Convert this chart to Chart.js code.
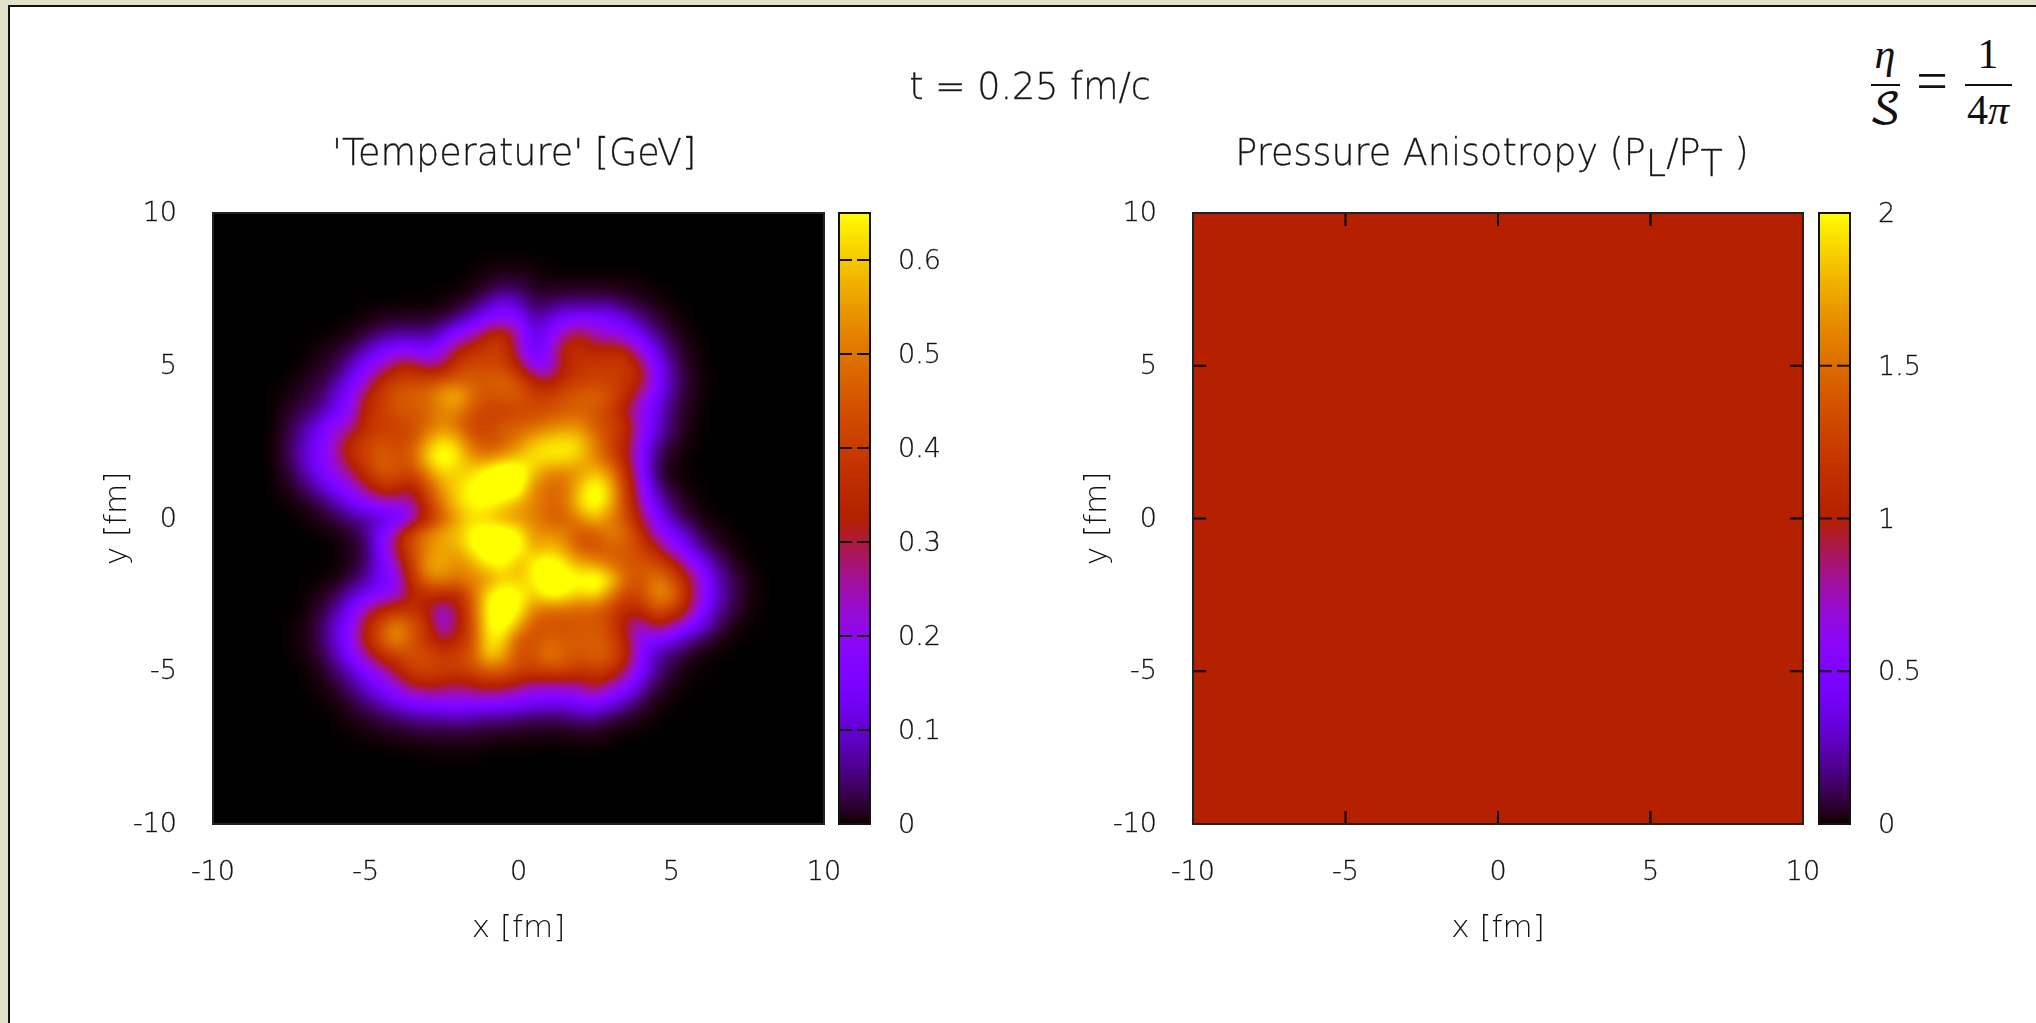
<!DOCTYPE html>
<html>
<head>
<meta charset="utf-8">
<title>Temperature and pressure anisotropy</title>
<script src="https://cdn.jsdelivr.net/npm/chart.js@4/dist/chart.umd.min.js"></script>
<style>
  html { background: #e4e1c9; }
  html, body { margin: 0; height: 100%; overflow: hidden; }
  #page { position: absolute; left: 8px; top: 5px; width: 2040px; height: 1030px; background: #fff;
          border-left: 2px solid #111; border-top: 2px solid #111; }
  canvas { position: absolute; filter: blur(0.4px); }
  .txt { position: absolute; font-family: "DejaVu Sans"; font-weight: 200; font-size: 36.5px; color: #111; white-space: nowrap;
         transform: translate(-50%, -50%); filter: blur(0.4px); -webkit-text-stroke: 0.3px #333; }
  .txt sub { font-size: 36.5px; vertical-align: -11px; line-height: 0; }
  .m { position: absolute; font-family: "Liberation Serif"; color: #111; white-space: nowrap;
       transform: translate(-50%, -50%); font-size: 42px; }
  .bar { position: absolute; height: 2px; background: #111; }
</style>
</head>
<body>
<div id="page"></div>
<div class="txt" style="left:1030px;top:86px">t = 0.25 fm/c</div>
<div class="txt" style="left:514px;top:152px">'Temperature' [GeV]</div>
<div class="txt" style="left:1492px;top:152px">Pressure Anisotropy (P<sub>L</sub>/P<sub>T</sub> )</div>
<div class="m" style="left:1885px;top:54px;font-style:italic">η</div>
<div class="bar" style="left:1871px;top:84px;width:29px"></div>
<div class="m" style="left:1885px;top:112px;font-family:'DejaVu Math TeX Gyre','Liberation Serif'">𝒮</div>
<div class="m" style="left:1932px;top:81px;font-size:56px">=</div>
<div class="m" style="left:1988px;top:54px">1</div>
<div class="bar" style="left:1965px;top:84px;width:47px"></div>
<div class="m" style="left:1988px;top:110px">4<i>π</i></div>

<script>
// temperature in hundredths of a GeV, rows top to bottom
const tempX = [-8,-7.5,-7,-6.5,-6,-5.5,-5,-4.5,-4,-3.5,-3,-2.5,-2,-1.5,-1,-.5,0,.5,1,1.5,2,2.5,3,3.5,4,4.5,5,5.5,6,6.5,7,7.5,8];
const tempY = [8.5,8,7.5,7,6.5,6,5.5,5,4.5,4,3.5,3,2.5,2,1.5,1,.5,0,-.5,-1,-1.5,-2,-2.5,-3,-3.5,-4,-4.5,-5,-5.5,-6,-6.5,-7,-7.5,-8];
const tempRows = [
  [0,0,0,0,0,0,0,0,0,0,0,0,0,0,0,0,0,0,0,0,0,0,0,0,0,0,0,0,0,0,0,0,0],
  [0,0,0,0,0,0,0,0,0,0,0,0,0,0,.5,1,1,.5,0,0,0,0,0,0,0,0,0,0,0,0,0,0,0],
  [0,0,0,0,0,0,0,0,0,0,0,0,0,.7,2,4,3.5,1.5,1,1,1,1,1,.7,.3,0,0,0,0,0,0,0,0],
  [0,0,0,0,0,0,0,0,0,0,0,.3,1,3,8.5,13,10,3,4,6,6,6,6,3,2,.7,0,0,0,0,0,0,0],
  [0,0,0,0,0,0,.3,1,1.5,1.5,1.5,2.5,6,11.5,17.5,20.5,17.5,7,11.5,16,17.5,17.5,16,11.5,6,2.5,.7,0,0,0,0,0,0],
  [0,0,0,0,0,.7,2.5,5,7,7,6,11.5,19,24,35,38,25,10,16,26,33,24,22,19,13,6,2,.3,0,0,0,0,0],
  [0,0,0,.3,1.5,3,8.5,14.5,17.5,17.5,14.5,20.5,32,37,40,40,24,11.5,19,36,37,34,36,34,20.5,11.5,4,1,0,0,0,0,0],
  [0,0,0,1.5,2.5,8.5,16,22,32,34,26,28,40,43,43,42,34,17.5,19,33,38,39,40,40,32,16,6,1.5,0,0,0,0,0],
  [0,0,1,2,6,13,22,36,41,42,43,46,47,46,46,48,44,34,30,38,40,42,41,38,34,17.5,7,2,.3,0,0,0,0],
  [0,.5,2,4,10,17.5,32,40,46,47,48,56,60,49,44,46,46,41,41,44,47,48,44,37,24,14.5,6,1.5,0,0,0,0,0],
  [0,1.5,3.5,6,13,19,36,40,44,46,47,52,52,44,41,40,42,43,44,46,47,45,41,30,20.5,11.5,4,1,0,0,0,0,0],
  [0,2.5,7,13,20.5,24,37,40,41,42,48,54,49,41,42,46,47,48,52,54,54,46,42,38,21,11.5,4,.7,0,0,0,0,0],
  [0,3.5,8.5,16,24,36,41,44,42,44,56,64,60,47,43,46,52,60,62,64,62,52,42,34,19,7,2,.3,0,0,0,0,0],
  [0,3.5,10,16,24,36,41,48,44,46,62,69,64,54,52,56,60,63,64,64,60,52,44,33,17.5,4,1,0,0,0,0,0,0],
  [0,2,7.5,14.5,20.5,27,38,46,44,42,52,62,60,62,68,74,70,60,52,52,54,60,54,38,19,3,.3,0,0,0,0,0,0],
  [0,1,3.5,8.5,14.5,20.5,28,37,37,30,44,55,62,66,70,74,70,52,48,48,60,69,60,40,22,7,1.5,.3,0,0,0,0,0],
  [0,0,1,3,7,13,17.5,22,22,24,38,52,61,66,66,62,57,52,48,49,62,68,60,42,25,11.5,4,1,0,0,0,0,0],
  [0,0,0,1,2.5,5,7,8.5,11.5,20.5,34,46,56,62,60,56,54,52,46,46,53,60,52,44,30,17.5,7,2.5,.3,0,0,0,0],
  [0,0,0,0,.3,1.5,5,16,28,44,52,57,60,66,70,71,66,54,54,52,44,45,52,49,38,22,16,8.5,2.5,.7,0,0,0],
  [0,0,0,0,0,1,3,14.5,31,43,52,56,56,66,71,71,68,56,60,56,46,44,46,46,42,34,21,14.5,6,2,.3,0,0],
  [0,0,0,0,0,.7,4,13,24,40,56,58,52,56,64,66,56,66,70,64,58,56,49,46,45,44,37,24,14.5,6,1.5,0,0],
  [0,0,0,0,.3,2.5,7,13,17.5,37,50,52,50,52,54,60,60,64,71,68,66,70,64,48,44,52,46,34,20.5,8.5,3.5,.7,0],
  [0,0,0,.7,3,8.5,13,17.5,20.5,33,36,36,34,48,64,70,66,60,68,66,60,64,52,42,42,54,52,36,20.5,10,3.5,.7,0],
  [0,0,0,2,6,14.5,26,34,38,38,32,20.5,30,46,66,70,66,52,48,48,47,46,42,34,36,44,42,32,17.5,7,3,.3,0],
  [0,0,.7,3,10,17.5,33,44,54,46,38,19,30,44,66,68,58,44,44,44,45,46,42,30,21,33,26,19,11.5,4,.7,0,0],
  [0,0,.7,3,10,19,34,45,55,45,38,30,34,44,64,62,44,44,48,46,46,47,44,33,19,14.5,11.5,6,2.5,.7,0,0,0],
  [0,0,.3,2,7,16,25,36,40,44,44,40,42,46,62,56,44,44,52,47,45,47,46,36,17.5,7,4,1.5,.3,0,0,0,0],
  [0,0,0,.7,4,8.5,16,22,32,40,42,40,40,42,46,46,42,40,42,42,38,40,38,28,16,6,2,.3,0,0,0,0,0],
  [0,0,0,.3,1.5,5,10,16,21,30,32,31,27,31,33,32,28,24,24,24,25,32,24,19,8.5,2.5,.7,0,0,0,0,0,0],
  [0,0,0,0,.3,2,5,8.5,13,16,17.5,19,19,19,19,17.5,16,14.5,13,13,16,17.5,13,8.5,3,.7,0,0,0,0,0,0,0],
  [0,0,0,0,0,.7,1.5,3,4,6,7,7,8.5,7,6,6,5,4,4,4,6,6,3,1.5,.7,0,0,0,0,0,0,0,0],
  [0,0,0,0,0,0,.3,.7,1,1.5,2,2,2,2,1.5,1,1,.7,.7,.7,1,1,.3,0,0,0,0,0,0,0,0,0,0],
  [0,0,0,0,0,0,0,0,0,0,.3,.3,.3,.3,0,0,0,0,0,0,0,0,0,0,0,0,0,0,0,0,0,0,0],
  [0,0,0,0,0,0,0,0,0,0,0,0,0,0,0,0,0,0,0,0,0,0,0,0,0,0,0,0,0,0,0,0,0]
];

// pressure anisotropy is flat at t = 0.25
const anisoX = [-10, 10];
const anisoY = [10, -10];
const anisoRows = [[1, 1], [1, 1]];

const axisTicks = [-10, -5, 0, 5, 10];
const tempTicks = [0, 0.1, 0.2, 0.3, 0.4, 0.5, 0.6];
const anisoTicks = [0, 0.5, 1, 1.5, 2];
const tempMax = 0.65;
const anisoMax = 2;

// gnuplot default palette (rgbformulae 7,5,15)
function palette(v) {
  const t = Math.min(1, Math.max(0, v));
  return [Math.sqrt(t) * 255, t * t * t * 255, Math.max(0, Math.sin(2 * Math.PI * t)) * 255];
}

// cubic b-spline smoothing between the cells, the original is a smooth pm3d map
function spline(a, b, c, d, t) {
  const u = 1 - t;
  return (u * u * u * a + (3 * t * t * t - 6 * t * t + 4) * b + (-3 * t * t * t + 3 * t * t + 3 * t + 1) * c + t * t * t * d) / 6;
}

function sampleRows(rows, xs, ys, xv, yv) {
  const fx = (xv - xs[0]) / (xs[1] - xs[0]);
  const fy = (yv - ys[0]) / (ys[1] - ys[0]);
  const ix = Math.floor(fx), iy = Math.floor(fy);
  const col = [];
  for (let j = -1; j <= 2; j++) {
    const row = rows[Math.max(0, Math.min(rows.length - 1, iy + j))];
    const p = i => row[Math.max(0, Math.min(row.length - 1, ix + i))];
    col.push(spline(p(-1), p(0), p(1), p(2), fx - ix));
  }
  return spline(col[0], col[1], col[2], col[3], fy - iy);
}

const fieldPlugin = {
  id: 'field',
  beforeDraw(chart, args, opts) {
    const { ctx, chartArea: a, scales } = chart;
    const w = Math.round(a.right - a.left), h = Math.round(a.bottom - a.top);
    const img = ctx.createImageData(w, h);
    for (let py = 0; py < h; py++) {
      const yv = scales.y.getValueForPixel(a.top + py + 0.5);
      for (let px = 0; px < w; px++) {
        const xv = scales.x.getValueForPixel(a.left + px + 0.5);
        const v = sampleRows(opts.rows, opts.xs, opts.ys, xv, yv) * opts.unit;
        const c = palette(v / opts.max);
        const k = (py * w + px) * 4;
        img.data[k] = c[0]; img.data[k + 1] = c[1]; img.data[k + 2] = c[2]; img.data[k + 3] = 255;
      }
    }
    ctx.putImageData(img, a.left, a.top);
  },
  afterDraw(chart) {
    const { ctx, chartArea: a, scales } = chart;
    ctx.save();
    ctx.strokeStyle = '#000';
    ctx.lineWidth = 2;
    ctx.beginPath();
    axisTicks.forEach(t => {
      const x = scales.x.getPixelForValue(t), y = scales.y.getPixelForValue(t);
      ctx.moveTo(x, a.bottom); ctx.lineTo(x, a.bottom - 13);
      ctx.moveTo(x, a.top); ctx.lineTo(x, a.top + 13);
      ctx.moveTo(a.left, y); ctx.lineTo(a.left + 13, y);
      ctx.moveTo(a.right, y); ctx.lineTo(a.right - 13, y);
    });
    ctx.stroke();
    ctx.strokeStyle = '#222';
    ctx.strokeRect(a.left, a.top, a.right - a.left, a.bottom - a.top);
    ctx.restore();
  }
};

const colorbarPlugin = {
  id: 'colorbar',
  beforeDraw(chart) {
    const { ctx, chartArea: a, scales } = chart;
    const top = Math.round(a.top), bottom = Math.round(a.bottom);
    for (let py = top; py < bottom; py++) {
      const c = palette(scales.y.getValueForPixel(py + 0.5) / scales.y.max);
      ctx.fillStyle = `rgb(${c[0]},${c[1]},${c[2]})`;
      ctx.fillRect(a.left, py, a.right - a.left, 1);
    }
  },
  afterDraw(chart) {
    const { ctx, chartArea: a, scales } = chart;
    ctx.save();
    ctx.strokeStyle = '#111';
    ctx.lineWidth = 2;
    ctx.beginPath();
    scales.y.ticks.forEach(t => {
      const y = scales.y.getPixelForValue(t.value);
      ctx.moveTo(a.left, y); ctx.lineTo(a.left + 13, y);
      ctx.moveTo(a.right, y); ctx.lineTo(a.right - 13, y);
    });
    ctx.stroke();
    ctx.strokeRect(a.left, a.top, a.right - a.left, a.bottom - a.top);
    ctx.restore();
  }
};

const tickFont = { family: 'DejaVu Sans', size: 27, weight: 200 };
const axisTitleFont = { family: 'DejaVu Sans', size: 31, weight: 200 };
const textColor = '#111';

function addCanvas(left, top, w, h) {
  const c = document.createElement('canvas');
  c.width = w; c.height = h;
  c.style.left = left + 'px'; c.style.top = top + 'px';
  c.style.width = w + 'px'; c.style.height = h + 'px';
  document.body.appendChild(c);
  return c;
}

function noOverhang(s) {
  s.paddingLeft = s.paddingRight = s.paddingTop = s.paddingBottom = 0;
}

function makePanel(left, plotWidth, field) {
  const canvas = addCanvas(left, 200, 153 + plotWidth + 15, 780);
  const points = [];
  field.rows.forEach((row, j) => row.forEach((v, i) => points.push({ x: field.xs[i], y: field.ys[j], v: v * field.unit })));
  return new Chart(canvas, {
    type: 'scatter',
    data: { datasets: [{ data: points, pointRadius: 0, pointHoverRadius: 0 }] },
    options: {
      responsive: false, animation: false, events: [],
      layout: { padding: { top: 13, right: 15, bottom: 0, left: 0 } },
      plugins: { legend: { display: false }, tooltip: { enabled: false }, field },
      scales: {
        x: {
          type: 'linear', min: -10, max: 10,
          afterFit: s => { s.height = 156; noOverhang(s); },
          afterBuildTicks: s => { s.ticks = axisTicks.map(value => ({ value })); },
          grid: { display: false }, border: { display: false },
          ticks: { font: tickFont, color: textColor, textStrokeColor: '#333', textStrokeWidth: 0.3, padding: 25, maxRotation: 0, autoSkip: false },
          title: { display: true, text: 'x [fm]', font: axisTitleFont, color: textColor, padding: 32 }
        },
        y: {
          type: 'linear', min: -10, max: 10,
          afterFit: s => { s.width = 153; noOverhang(s); },
          afterBuildTicks: s => { s.ticks = axisTicks.map(value => ({ value })); },
          grid: { display: false }, border: { display: false },
          ticks: { font: tickFont, color: textColor, textStrokeColor: '#333', textStrokeWidth: 0.3, padding: 28, autoSkip: false, labelOffset: 1 },
          title: { display: true, text: 'y [fm]', font: axisTitleFont, color: textColor, padding: 39 }
        }
      }
    },
    plugins: [fieldPlugin]
  });
}

function makeColorbar(left, max, ticks) {
  const canvas = addCanvas(left, 200, 5 + 31 + 90, 780);
  return new Chart(canvas, {
    type: 'scatter',
    data: { datasets: [] },
    options: {
      responsive: false, animation: false, events: [],
      layout: { padding: { top: 13, right: 0, bottom: 156, left: 5 } },
      plugins: { legend: { display: false }, tooltip: { enabled: false } },
      scales: {
        x: { type: 'linear', display: false },
        y: {
          type: 'linear', position: 'right', min: 0, max,
          afterFit: s => { s.width = 90; noOverhang(s); },
          afterBuildTicks: s => { s.ticks = ticks.map(value => ({ value })); },
          grid: { display: false }, border: { display: false },
          ticks: { font: tickFont, color: textColor, textStrokeColor: '#333', textStrokeWidth: 0.3, padding: 20, autoSkip: false, labelOffset: 2, callback: v => String(v) }
        }
      }
    },
    plugins: [colorbarPlugin]
  });
}

makePanel(60, 611, { rows: tempRows, xs: tempX, ys: tempY, unit: 0.01, max: tempMax });
makeColorbar(834, tempMax, tempTicks);
makePanel(1040, 610, { rows: anisoRows, xs: anisoX, ys: anisoY, unit: 1, max: anisoMax });
makeColorbar(1814, anisoMax, anisoTicks);
</script>
</body>
</html>
